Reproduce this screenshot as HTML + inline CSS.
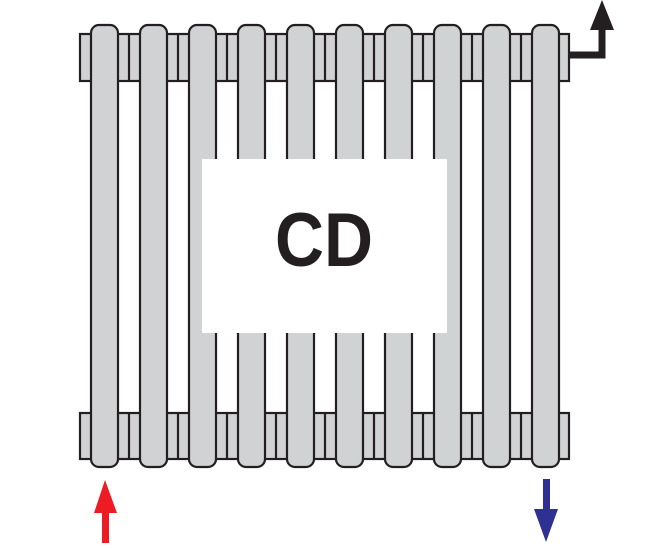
<!DOCTYPE html>
<html><head><style>html,body{margin:0;padding:0;background:#fff;}svg{display:block;}</style></head>
<body>
<svg width="651" height="549" viewBox="0 0 651 549" xmlns="http://www.w3.org/2000/svg">
<g fill="#d1d2d4" stroke="#231f20" stroke-width="2.2">
<rect x="80" y="34" width="489" height="47"/>
<rect x="80" y="413" width="489" height="46"/>
</g>
<g stroke="#231f20" stroke-width="2.2">
<line x1="129" y1="34" x2="129" y2="81"/><line x1="178" y1="34" x2="178" y2="81"/><line x1="227" y1="34" x2="227" y2="81"/><line x1="276" y1="34" x2="276" y2="81"/><line x1="325" y1="34" x2="325" y2="81"/><line x1="374" y1="34" x2="374" y2="81"/><line x1="423" y1="34" x2="423" y2="81"/><line x1="472" y1="34" x2="472" y2="81"/><line x1="521" y1="34" x2="521" y2="81"/>
<line x1="129" y1="413" x2="129" y2="459"/><line x1="178" y1="413" x2="178" y2="459"/><line x1="227" y1="413" x2="227" y2="459"/><line x1="276" y1="413" x2="276" y2="459"/><line x1="325" y1="413" x2="325" y2="459"/><line x1="374" y1="413" x2="374" y2="459"/><line x1="423" y1="413" x2="423" y2="459"/><line x1="472" y1="413" x2="472" y2="459"/><line x1="521" y1="413" x2="521" y2="459"/>
</g>
<g fill="#d1d2d4" stroke="#231f20" stroke-width="2.2">
<rect x="91" y="25" width="27" height="442" rx="8"/>
<rect x="140" y="25" width="27" height="442" rx="8"/>
<rect x="189" y="25" width="27" height="442" rx="8"/>
<rect x="238" y="25" width="27" height="442" rx="8"/>
<rect x="287" y="25" width="27" height="442" rx="8"/>
<rect x="336" y="25" width="27" height="442" rx="8"/>
<rect x="385" y="25" width="27" height="442" rx="8"/>
<rect x="434" y="25" width="27" height="442" rx="8"/>
<rect x="483" y="25" width="27" height="442" rx="8"/>
<rect x="532" y="25" width="27" height="442" rx="8"/>
</g>
<rect x="202" y="159" width="245" height="174" fill="#fff"/>
<text x="324" y="266" text-anchor="middle" font-family="Liberation Sans, sans-serif" font-weight="bold" font-size="76" textLength="98" lengthAdjust="spacingAndGlyphs" fill="#231f20">CD</text>
<polyline points="569,55 602,55 602,28" fill="none" stroke="#231f20" stroke-width="7"/>
<polygon points="590,30 614,30 602,0" fill="#231f20"/>
<rect x="102" y="512" width="7" height="31" fill="#ed1c24"/>
<polygon points="94,513 117,513 105,480" fill="#ed1c24"/>
<rect x="543" y="479" width="7" height="32" fill="#2e3192"/>
<polygon points="534,509 558,509 546,542" fill="#2e3192"/>
</svg>
</body></html>
